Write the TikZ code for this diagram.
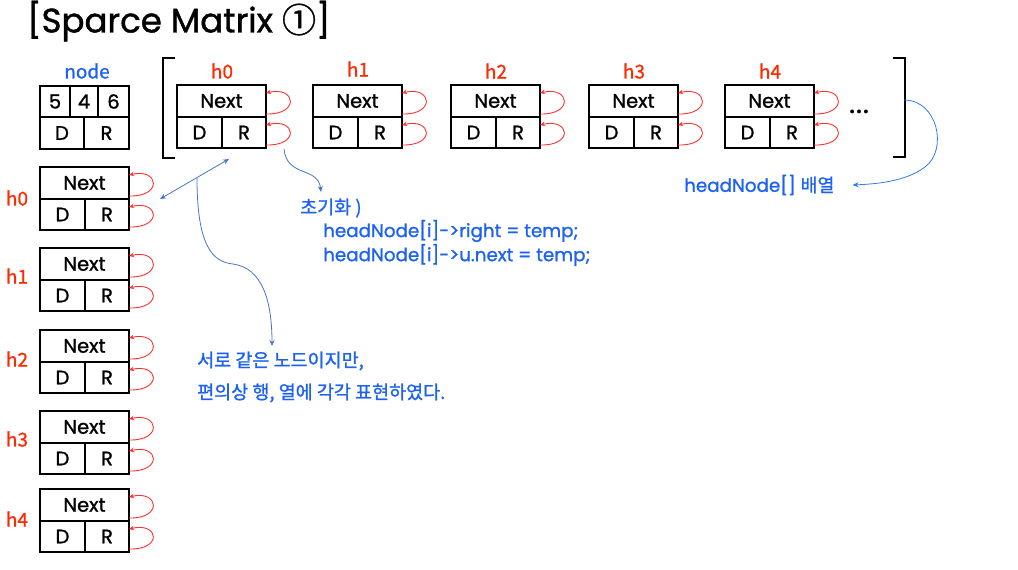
\documentclass[tikz,border=0pt]{standalone}
\usepackage{fontspec}
\setmainfont{Poppins}[FakeBold=1.2]
\newfontfamily\pop{Poppins}[FakeBold=1.2]
\newfontfamily\kr{Noto Sans CJK KR}[FakeBold=1.2]
\newfontfamily\krl{Noto Sans CJK KR}[FakeBold=0.8]
\usetikzlibrary{arrows.meta,calc}
\definecolor{tblue}{HTML}{1E62F2}
\definecolor{ablue}{HTML}{4A74C9}
\definecolor{bblue}{HTML}{2F7BEA}
\definecolor{lred}{HTML}{FF3030}
\definecolor{hred}{HTML}{FF2A00}
\tikzset{
  cell/.style={draw, line width=1.6pt, minimum height=31pt, inner sep=0pt, outer sep=0pt,
    anchor=north west, font=\pop\fontsize{19.5}{19.5}\selectfont},
  loopr/.style={draw=lred, line width=0.9pt, -{Stealth[length=5pt,width=4.5pt]}},
  hlab/.style={text=hred, font=\krl\fontsize{19}{19}\selectfont},
  btext/.style={text=tblue, anchor=west, inner sep=0pt, font=\pop\fontsize{18.3}{18.3}\selectfont},
  ktext/.style={text=tblue, anchor=west, inner sep=0pt, font=\kr\fontsize{18.5}{18.5}\selectfont},
  barrow/.style={draw=ablue, line width=0.8pt, -{Stealth[length=6pt,width=5pt]}},
}
\newcommand\headcell[3]{%
  \node[cell, minimum width=89pt, minimum height=32pt] (#1n) at (#2,#3) {Next};
  \node[cell, minimum width=45pt] (#1d) at (#2,#3+32) {D};
  \node[cell, minimum width=44pt] (#1r) at (#2+45,#3+32) {R};
  \draw[loopr] ([yshift=3pt]#1n.south east) .. controls +(34,1) and +(30,-7) .. ([yshift=-8pt]#1n.north east);
  \draw[loopr] ([yshift=3pt]#1r.south east) .. controls +(34,1) and +(30,-7) .. ([yshift=-8pt]#1r.north east);
}
\begin{document}
\begin{tikzpicture}[x=1pt,y=-1pt]
\useasboundingbox (0,0) rectangle (1018,570);
% title
\node[anchor=west, inner sep=0pt, font=\pop\fontsize{34}{34}\selectfont] (title) at (27,21) {[Sparce Matrix {\kr ①}]};
% node legend
\node[text=tblue, font=\krl\fontsize{19}{19}\selectfont] (nodelab) at (87,71) {node};
\node[cell, minimum width=30pt] (v5) at (40,86) {5};
\node[cell, minimum width=28pt] (v4) at (70,86) {4};
\node[cell, minimum width=31pt] (v6) at (98,86) {6};
\node[cell, minimum width=44pt, minimum height=32pt] (vd) at (40,117) {D};
\node[cell, minimum width=45pt, minimum height=32pt] (vr) at (84,117) {R};
% top row
\headcell{t0}{177}{85}
\headcell{t1}{313}{85}
\headcell{t2}{451}{85}
\headcell{t3}{589}{85}
\headcell{t4}{725}{85}
\node[hlab] (tl0) at (222,71) {h0};
\node[hlab] (tl1) at (358,69) {h1};
\node[hlab] (tl2) at (496,71) {h2};
\node[hlab] (tl3) at (634,71) {h3};
\node[hlab] (tl4) at (770,71) {h4};
\node[anchor=base, inner sep=0pt, font=\pop\fontsize{28}{28}\selectfont] (dots) at (859,113) {.\kern1pt.\kern1pt.};
% brackets
\draw[line width=1.8pt] (175,58) -- (163,58) -- (163,158) -- (175,158);
\draw[line width=1.8pt] (893,58) -- (905,58) -- (905,157) -- (893,157);
% left column
\headcell{l0}{40}{167}
\headcell{l1}{40}{248}
\headcell{l2}{40}{330}
\headcell{l3}{40}{411}
\headcell{l4}{40}{489}
\node[hlab] (ll0) at (17,198) {h0};
\node[hlab] (ll1) at (17,276) {h1};
\node[hlab] (ll2) at (17,359) {h2};
\node[hlab] (ll3) at (17,439) {h3};
\node[hlab] (ll4) at (17,519) {h4};
% texts
\node[btext] (harr) at (684,185) {headNode[] {\kr 배열}};
\node[ktext] (init) at (300,208) {초기화 )};
\node[btext] (code1) at (323,231) {headNode[i]->right = temp;};
\node[btext] (code2) at (323,255) {headNode[i]->u.next = temp;};
\node[ktext] (k1) at (197,361) {서로 같은 노드이지만,};
\node[ktext] (k2) at (197,393) {편의상 행, 열에 각각 표현하였다.};
% connectors
\coordinate (dl) at (160,199);
\coordinate (dr) at (229,159);
\coordinate (dm) at (197,178);
\coordinate (ke) at (272,346);
\coordinate (ie) at (321,192);
\coordinate (is) at (284,149);
\coordinate (bs) at (904,100);
\draw[draw=ablue, line width=0.8pt, {Stealth[length=6pt,width=5pt]}-{Stealth[length=6pt,width=5pt]}] (dl) -- (dr);
\draw[barrow] (dm) .. controls (197,245) and (212,262) .. (233,264) .. controls (262,268) and (272,300) .. (ke);
\draw[barrow] (is) .. controls (287,178) and (318,166) .. (ie);
\draw[barrow, draw=bblue] (bs) .. controls (938,100) and (948,150) .. (925,167) .. controls (905,182) and (875,184) .. ([xshift=18pt]harr.east);
\end{tikzpicture}
\end{document}
